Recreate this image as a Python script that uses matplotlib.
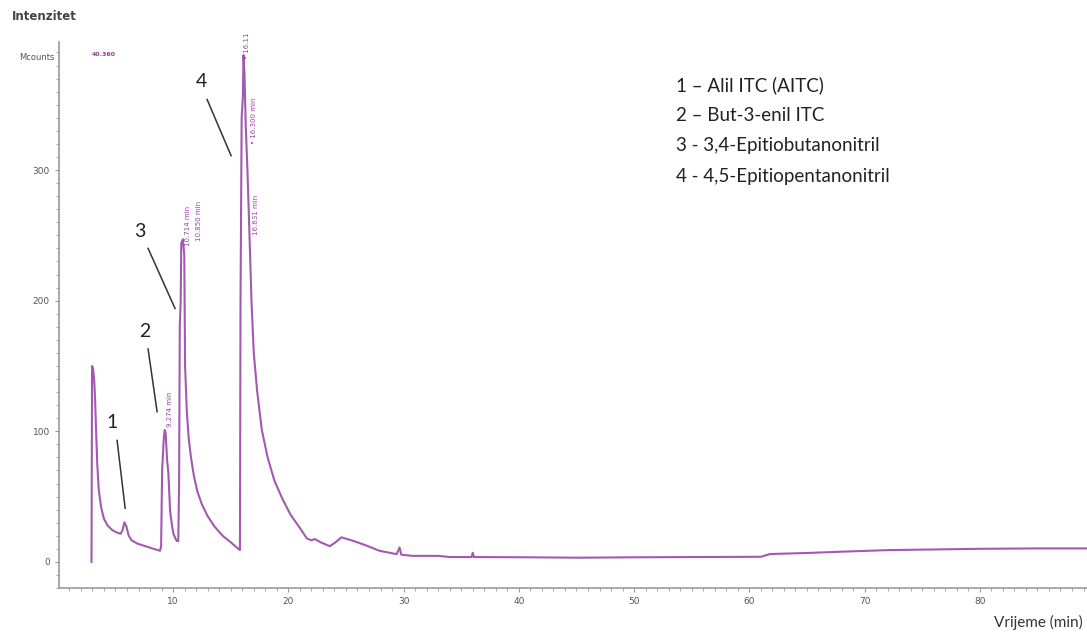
import matplotlib
matplotlib.use('Agg')
import matplotlib.pyplot as plt
from matplotlib.ticker import MultipleLocator

# chromatogram trace (time in min, intensity in Mcounts)
time_min = [2.92, 2.97, 3.05, 3.15, 3.23, 3.32, 3.42, 3.55, 3.75, 4.00, 4.30, 4.70, 5.10, 5.45,
            5.60, 5.78, 5.95, 6.15, 6.40, 6.90, 7.60, 8.30, 8.87, 8.96, 9.05, 9.18, 9.27, 9.35,
            9.48, 9.59, 9.74, 9.90, 10.03, 10.20, 10.32, 10.45, 10.52, 10.58, 10.66, 10.71, 10.85,
            10.97, 11.04, 11.19, 11.35, 11.55, 11.80, 12.10, 12.50, 13.00, 13.60, 14.30, 15.00,
            15.60, 15.80, 15.85, 15.95, 16.05, 16.11, 16.20, 16.30, 16.45, 16.63, 16.80, 17.00,
            17.30, 17.70, 18.20, 18.80, 19.50, 20.20, 21.00, 21.60, 22.00, 22.30, 22.80, 23.60,
            24.10, 24.60, 25.60, 26.80, 27.90, 29.40, 29.65, 29.80, 30.80, 33.00, 34.00, 35.90,
            36.00, 36.10, 41.00, 45.00, 50.00, 55.00, 61.00, 61.80, 65.00, 68.00, 72.00, 76.00,
            80.00, 85.00, 89.30]
intensity = [0, 150, 148, 140, 125, 100, 75, 55, 42, 33, 28, 24.5, 22.5, 21.5,
             24, 30.3, 27, 20, 16.5, 14, 12, 10, 8.5, 12, 70, 93, 101, 99,
             78, 68, 39, 28, 21.6, 18, 16, 16, 60, 180, 200, 244, 247,
             235, 150, 115, 95, 80, 66, 54, 44, 35, 27, 20, 15,
             10.5, 9, 200, 340, 355, 388, 372, 335, 300, 250, 200, 160,
             130, 101, 80, 62, 48, 36, 26, 18, 16.5, 17.5, 15, 12,
             15, 18.8, 16.2, 12.4, 8.5, 5.9, 11, 5.5, 4.6, 4.6, 3.7, 3.7,
             7, 3.7, 3.5, 3.2, 3.5, 3.7, 3.9, 6, 6.8, 7.8, 9, 9.5,
             10, 10.3, 10.3]

# retention time labels written by the instrument software
rt_labels = ['9.274 min', '10.714 min', '10.850 min', '• 16.11', '• 16.300 min', '16.631 min']
rt_x = [9.75, 11.3, 12.25, 16.42, 17.03, 17.2]
rt_y = [103, 242, 246, 385, 320, 250]

# peak numbers and their pointer lines
peak_nums = ['1', '2', '3', '4']
num_xy = [(4.71, 107), (7.57, 176), (7.14, 253), (12.43, 368)]
line_from = [(5.14, 93), (7.83, 163), (7.83, 240), (12.95, 354)]
line_to = [(5.84, 41), (8.61, 115), (10.17, 194), (15.03, 311)]

legend_lines = ['1 – Alil ITC (AITC)', '2 – But-3-enil ITC',
                '3 - 3,4-Epitiobutanonitril', '4 - 4,5-Epitiopentanonitril']

W, H = 1087, 632
fig = plt.figure(figsize=(W / 100, H / 100), dpi=100)
ax = fig.add_axes([59 / W, 1 - 588 / H, (W - 59) / W, (588 - 42) / H])

ax.plot(time_min, intensity, color='#a259b0', lw=1.5)

ax.set_xlim(0.1, 89.3)
ax.set_ylim(-20, 398)

for s in ['top', 'right']:
    ax.spines[s].set_visible(False)
for s in ['left', 'bottom']:
    ax.spines[s].set_color('#9a9a9a')
    ax.spines[s].set_linewidth(1.2)

ax.set_xticks(range(10, 90, 10))
ax.set_yticks([0, 100, 200, 300])
ax.xaxis.set_minor_locator(MultipleLocator(1))
ax.yaxis.set_minor_locator(MultipleLocator(10))
ax.tick_params(which='both', colors='#9a9a9a', labelcolor='#555555', labelsize=6.5)
ax.tick_params(which='major', length=3, width=0.8)
ax.tick_params(which='minor', length=2, width=0.6)

# rotated retention time labels
for lab, x, y in zip(rt_labels, rt_x, rt_y):
    ax.text(x, y, lab, rotation=90, ha='center', va='bottom', fontsize=5,
            color='#9a3fa6')

# peak numbers with pointer lines
for n, (tx, ty), p0, p1 in zip(peak_nums, num_xy, line_from, line_to):
    ax.text(tx, ty, n, ha='center', va='center', fontsize=14, family='Lato', color='#222222')
    ax.plot([p0[0], p1[0]], [p0[1], p1[1]], color='#333333', lw=1.1)

for i, txt in enumerate(legend_lines):
    fig.text(676 / W, 1 - (85 + i * 30.5) / H, txt, ha='left', va='center',
             fontsize=13.5, family='Lato', color='#222222')

fig.text(12 / W, 1 - 17 / H, 'Intenzitet', ha='left', va='center', fontsize=8.5,
         color='#444444', fontweight='bold')
fig.text(55 / W, 1 - 58 / H, 'Mcounts', ha='right', va='center', fontsize=6,
         color='#555555')
fig.text(92 / W, 1 - 55 / H, '40.360', ha='left', va='center', fontsize=4.5,
         color='#8e3b96', fontweight='bold')
fig.text(1083 / W, 1 - 622 / H, 'Vrijeme (min)', ha='right', va='center', fontsize=11,
         family='Lato', color='#333333')

fig.savefig('out.png', dpi=100)
